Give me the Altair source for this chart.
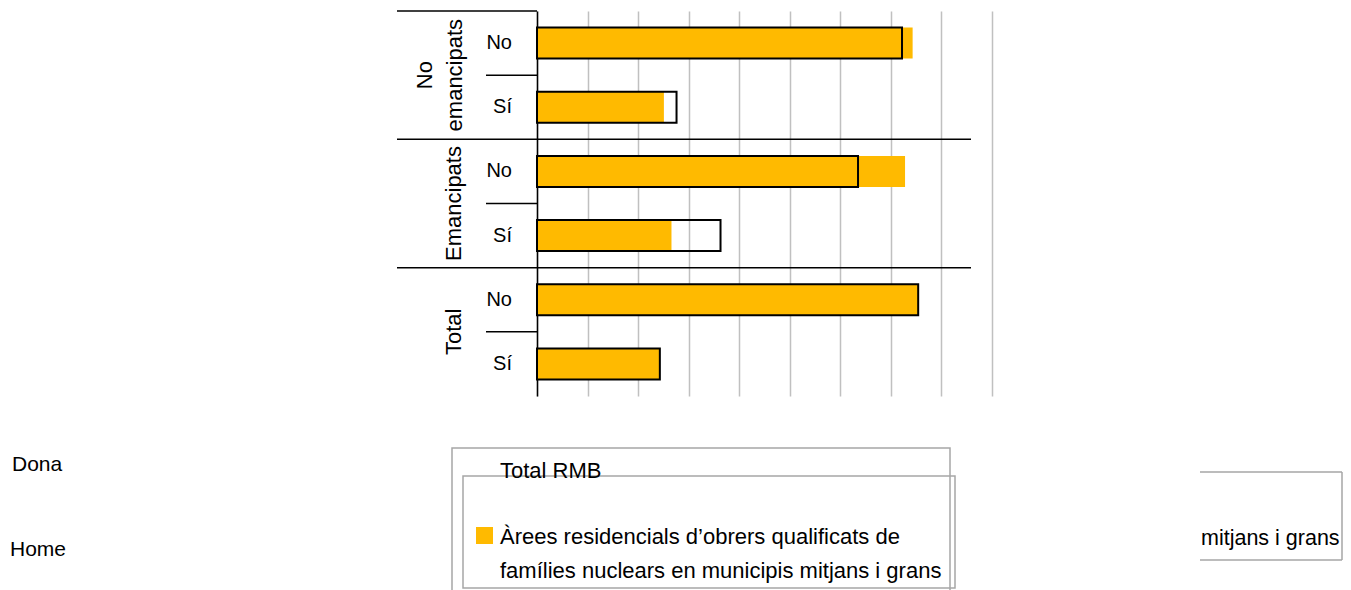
import altair as alt
import pandas as pd

# ---------------- data ----------------
groups = ["No emancipats", "No emancipats", "Emancipats", "Emancipats", "Total", "Total"]
answers = ["No", "Sí", "No", "Sí", "No", "Sí"]
total_rmb = [72.2, 27.6, 63.5, 36.3, 75.4, 24.3]
arees = [74.3, 25.1, 72.8, 26.6, 75.4, 24.3]
series_names = ["Total RMB",
                "Àrees residencials d’obrers qualificats de famílies nuclears en municipis mitjans i grans"]
arees_legend_lines = ["Àrees residencials d’obrers qualificats de",
                      "famílies nuclears en municipis mitjans i grans"]
clipped_legend_text = ["mitjans i grans"]
side_labels = ["Dona", "Home"]
x_ticks = [0, 10, 20, 30, 40, 50, 60, 70, 80, 90]

ORANGE = "#FFBA00"
FONT = "Liberation Sans"
BOX = "#A6A6A6"

rows = [f"{g}|{a}" for g, a in zip(groups, answers)]
df = pd.DataFrame({"row": rows, "group": groups, "answer": answers,
                   "total": total_rmb, "arees": arees})

W, H = 455, 385
yscale = alt.Scale(domain=rows, paddingInner=0, paddingOuter=0)
xscale = alt.Scale(domain=[0, 90], nice=False)
xaxis = alt.Axis(values=x_ticks, grid=True, gridColor="#C0C0C0", gridWidth=1.5,
                 labels=False, ticks=False, domain=False, title=None)
yaxis = alt.Axis(title=None, ticks=False, labels=False, domain=True, domainColor="black",
                 domainWidth=1.5, grid=False)


def Y(band=0.5):
    return alt.Y("row:N", scale=yscale, sort=rows, axis=yaxis, bandPosition=band)


bars_orange = alt.Chart(df).mark_bar(size=31, color=ORANGE).encode(
    x=alt.X("arees:Q", scale=xscale, axis=xaxis),
    y=Y(),
)

bars_total = alt.Chart(df).mark_bar(size=31, fillOpacity=0, stroke="black", strokeWidth=2).encode(
    x=alt.X("total:Q", scale=xscale, axis=xaxis),
    y=Y(),
)

answer_labels = alt.Chart(df).mark_text(
    font=FONT, fontSize=20, align="right", baseline="middle", color="black").encode(
    y=Y(), x=alt.value(-25), text="answer:N")

df_no = df[df["answer"] == "No"]
df_sep = df.iloc[[1, 3]]
df_top = df.iloc[[0]]

short_rules = alt.Chart(df_no).mark_rule(color="black", strokeWidth=1.5).encode(
    y=Y(1), x=alt.value(-51), x2=alt.value(0),
)
long_rules = alt.Chart(df_sep).mark_rule(color="black", strokeWidth=1.5).encode(
    y=Y(1), x=alt.value(-140), x2=alt.value(434),
)
top_rule = alt.Chart(df_top).mark_rule(color="black", strokeWidth=1.5).encode(
    y=Y(0), x=alt.value(-140), x2=alt.value(0),
)

grp_multi = alt.Chart(df_no[df_no["group"].str.contains(" ")]).mark_text(
    angle=270, font=FONT, fontSize=22, lineBreak=" ", lineHeight=30,
    align="center", baseline="middle", color="black").encode(
    y=Y(1), x=alt.value(-112), text="group:N",
)
grp_single = alt.Chart(df_no[~df_no["group"].str.contains(" ")]).mark_text(
    angle=270, font=FONT, fontSize=22, align="center", baseline="middle", color="black").encode(
    y=Y(1), x=alt.value(-83), text="group:N",
)

# ---------------- legend debris ----------------
one = pd.DataFrame({"k": [0]})
box1 = alt.Chart(one).mark_rect(fillOpacity=0, stroke=BOX, strokeWidth=1.5).encode(
    x=alt.value(-85), x2=alt.value(413), y=alt.value(437), y2=alt.value(600))
box2 = alt.Chart(one).mark_rect(fillOpacity=0, stroke=BOX, strokeWidth=1.5).encode(
    x=alt.value(-74), x2=alt.value(418), y=alt.value(465), y2=alt.value(577))
box3_top = alt.Chart(one).mark_rule(color=BOX, strokeWidth=1.5).encode(
    x=alt.value(663), x2=alt.value(805), y=alt.value(461))
box3_bottom = alt.Chart(one).mark_rule(color=BOX, strokeWidth=1.5).encode(
    x=alt.value(663), x2=alt.value(805), y=alt.value(549))
box3_right = alt.Chart(one).mark_rule(color=BOX, strokeWidth=1.5).encode(
    x=alt.value(805), y=alt.value(461), y2=alt.value(549))

leg_total = alt.Chart(pd.DataFrame({"t": series_names[:1]})).mark_text(
    font=FONT, fontSize=22, align="left", baseline="alphabetic", color="black").encode(
    x=alt.value(-37), y=alt.value(467), text="t:N")
leg_sq = alt.Chart(pd.DataFrame({"s": series_names[1:]})).mark_rect(color=ORANGE).encode(
    x=alt.value(-61), x2=alt.value(-44), y=alt.value(516), y2=alt.value(533))
leg_arees = alt.Chart(one).mark_text(
    text=arees_legend_lines, font=FONT, fontSize=22, lineHeight=34,
    align="left", baseline="alphabetic", color="black").encode(
    x=alt.value(-37), y=alt.value(533))
leg_clip = alt.Chart(pd.DataFrame({"t": clipped_legend_text})).mark_text(
    font=FONT, fontSize=21.5, align="left", baseline="alphabetic", color="black").encode(
    x=alt.value(664), y=alt.value(534), text="t:N")
side_dona = alt.Chart(pd.DataFrame({"t": side_labels[:1]})).mark_text(
    font=FONT, fontSize=21, align="left", baseline="alphabetic", color="black").encode(
    x=alt.value(-525), y=alt.value(460), text="t:N")
side_home = alt.Chart(pd.DataFrame({"t": side_labels[1:]})).mark_text(
    font=FONT, fontSize=21, align="left", baseline="alphabetic", color="black").encode(
    x=alt.value(-527), y=alt.value(545), text="t:N")

chart = alt.layer(
    bars_orange, bars_total, answer_labels, short_rules, long_rules, top_rule,
    grp_multi, grp_single,
    box1, box2, box3_top, box3_bottom, box3_right,
    leg_total, leg_sq, leg_arees, leg_clip, side_dona, side_home,
).properties(
    width=W, height=H,
    padding={"left": 529, "top": 3, "right": 351, "bottom": 194},
    autosize=alt.AutoSizeParams(type="none"),
    background="white",
).configure_view(stroke=None)

chart.save("out.html", embed_options={"renderer": "svg", "actions": False})
